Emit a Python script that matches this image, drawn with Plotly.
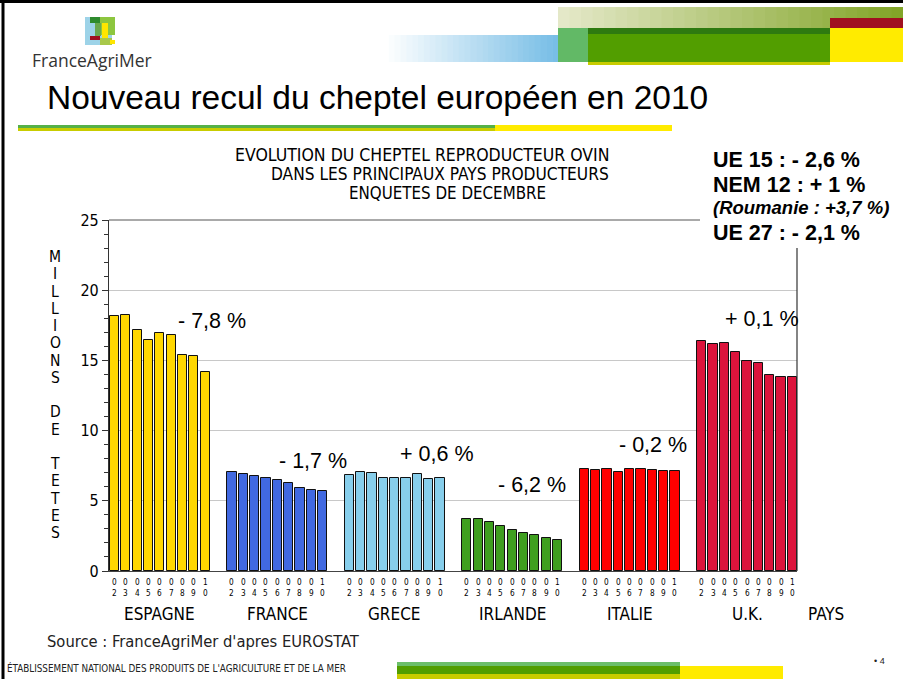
import plotly.graph_objects as go

# ---------------- data ----------------
countries = ["ESPAGNE", "FRANCE", "GRECE", "IRLANDE", "ITALIE", "U.K."]
years = ["02", "03", "04", "05", "06", "07", "08", "09", "10"]

espagne = [18.16, 18.23, 17.14, 16.43, 16.93, 16.81, 15.40, 15.32, 14.15]
france = [7.02, 6.88, 6.76, 6.64, 6.45, 6.28, 5.88, 5.78, 5.67]
grece = [6.83, 7.02, 6.97, 6.59, 6.59, 6.59, 6.90, 6.54, 6.59]
irlande = [3.72, 3.68, 3.46, 3.22, 2.94, 2.68, 2.54, 2.37, 2.20]
italie = [7.30, 7.16, 7.25, 7.02, 7.30, 7.25, 7.20, 7.09, 7.09]
uk = [16.41, 16.20, 16.27, 15.60, 14.96, 14.84, 13.99, 13.82, 13.85]
series = [espagne, france, grece, irlande, italie, uk]

pct_labels = ["- 7,8 %", "- 1,7 %", "+ 0,6 %", "- 6,2 %", "- 0,2 %", "+ 0,1 %"]
summary_lines = ["UE 15 : - 2,6 %", "NEM 12 : + 1 %", "(Roumanie : +3,7 %)", "UE 27 : - 2,1 %"]
y_title_lines = ["M", "I", "L", "L", "I", "O", "N", "S", "", "D", "E", "", "T", "E", "T", "E", "S"]

colors = ["#FFD700", "#4169E1", "#87CEEB", "#3F9F1F", "#FF0000", "#DC143C"]

# ---------------- layout helpers ----------------
W, H = 903, 679
PL, PR, PT, PB = 109, 797, 220, 571
def fx(px):
    return (px - PL) / (PR - PL)
def fy(py):
    return (PB - py) / (PB - PT)

GROUP_PITCH = 117.45
BAR_PITCH = 11.33
FIRST_CENTER = 5.5

chart_font = "Liberation Sans Narrow, DejaVu Sans Condensed, Arial Narrow, sans-serif"
arial = "Liberation Sans, Arial, sans-serif"

fig = go.Figure()
anns = []
def text(x, y, s, size, color="#000000", family=chart_font, xanchor="center", yanchor="middle", **kw):
    anns.append(dict(x=fx(x), y=fy(y), xref="paper", yref="paper", text=s, showarrow=False,
                     xanchor=xanchor, yanchor=yanchor,
                     font=dict(size=size, color=color, family=family), **kw))

for g, (name, vals, col) in enumerate(zip(countries, series, colors)):
    xs = [FIRST_CENTER + g * GROUP_PITCH + i * BAR_PITCH for i in range(len(vals))]
    fig.add_trace(go.Bar(
        x=xs, y=vals, width=9.2, name=name,
        marker=dict(color=col, line=dict(color="#111111", width=1)),
        showlegend=False, hoverinfo="y",
    ))
    for x, yr in zip(xs, years):
        anns.append(dict(x=x, y=fy(587.5), xref="x", yref="paper", text=yr[0] + "<br>" + yr[1],
                         showarrow=False, borderpad=0, xanchor="center", yanchor="middle",
                         font=dict(size=8.2, family=chart_font, color="#000000")))

shapes = []
def rect(x0, y0, x1, y1, color, layer="above"):
    shapes.append(dict(type="rect", xref="paper", yref="paper",
                       x0=fx(x0), x1=fx(x1), y0=fy(y1), y1=fy(y0),
                       fillcolor=color, line=dict(width=0), layer=layer))
def line(x0, y0, x1, y1, color, width=1):
    shapes.append(dict(type="line", xref="paper", yref="paper",
                       x0=fx(x0), x1=fx(x1), y0=fy(y0), y1=fy(y1),
                       line=dict(color=color, width=width), layer="above"))

def lerp(c1, c2, t):
    return "rgb(%d,%d,%d)" % tuple(int(round(a + (b - a) * t)) for a, b in zip(c1, c2))

def hgrad(x0, y0, x1, y1, c1, c2, steps=30):
    w = (x1 - x0) / steps
    for k in range(steps):
        rect(x0 + k * w, y0, x0 + (k + 1) * w + 0.6, y1, lerp(c1, c2, k / (steps - 1)))

# slide border
line(3, 0, 3, H, "#000000", 3)
line(0, 1.5, W, 1.5, "#000000", 3)

# header decorations
hgrad(383, 35, 558, 62, (255, 255, 255), (120, 190, 230))
hgrad(558, 7, 903, 28, (228, 232, 200), (130, 165, 40))
rect(558, 28, 588, 62, "#62B966")
rect(588, 28, 830, 34, "#2E7A10")
rect(588, 34, 830, 62, "#529E00")
rect(588, 62, 830, 65, "#C8CC00")
rect(830, 18, 903, 28, "#A01020")
rect(830, 28, 903, 62, "#FFEB00")

# logo
rect(85, 17, 112, 45, "#9DD3E8")
rect(90, 17, 115, 23, "#2E8B2E")
rect(100, 17, 115, 35, "#8DC63F")
rect(102, 23, 108, 38, "#FFE600")
rect(95, 23, 101, 36, "#6AA84F")
rect(90, 36, 100, 40, "#A01020")
rect(100, 38, 112, 45, "#A8C84A")
rect(110, 40, 115, 44, "#FFE600")

# title underline
rect(18, 125, 495, 128, "#55B048")
rect(18, 128, 495, 131, "#C8CC00")
rect(495, 125, 672, 131, "#FFEB00")

# footer bars
rect(397, 662, 680, 666, "#6CBF6A")
rect(397, 666, 680, 674, "#529E00")
rect(397, 674, 680, 679, "#C8CC00")
rect(680, 666, 783, 679, "#FFEB00")

# plot frame (top line interrupted by the text box, right line starts lower)
line(PL, PT, 700, PT, "#555555", 1)
line(PR, 248, PR, PB, "#333333", 1.2)

# header texts
text(30, 60, "FranceAgriMer", 17.5, "#333333", "Open Sans, Noto Sans, sans-serif", xanchor="left")
text(45, 98, "Nouveau recul du cheptel européen en 2010", 33.5, "#000000", arial, xanchor="left")

# chart titles
text(422.5, 155, "EVOLUTION DU CHEPTEL REPRODUCTEUR OVIN", 17.5)
text(440, 174, "DANS LES PRINCIPAUX PAYS PRODUCTEURS", 17.2)
text(447.5, 193, "ENQUETES DE DECEMBRE", 16.8)

# y axis title (stacked letters)
for k, ch in enumerate(y_title_lines):
    if ch:
        text(55, 257 + k * 17.25, ch, 15.5)

# group labels
for g, name in enumerate(countries):
    cx = PL + FIRST_CENTER + g * GROUP_PITCH + 4 * BAR_PITCH
    text(cx, 614, name, 17)
text(826, 614, "PAYS", 17)

# percent labels
pct_pos = [(212, 321), (313, 461), (437, 454), (532, 485), (653, 445), (762, 319)]
for (x, y), s in zip(pct_pos, pct_labels):
    text(x, y, s, 21.5, family=arial)

# summary box
box_y = [160, 185, 208, 233]
for y, s in zip(box_y, summary_lines):
    if s.startswith("("):
        text(711, y, "<b><i>" + s + "</i></b>", 18.5, family=arial, xanchor="left")
    else:
        text(711, y, "<b>" + s + "</b>", 21.5, family=arial, xanchor="left")

# footer texts
text(45, 641, "Source : FranceAgriMer d'apres EUROSTAT", 16.4, "#222222", xanchor="left")
text(5, 668, "ÉTABLISSEMENT NATIONAL DES PRODUITS DE L'AGRICULTURE ET DE LA MER", 9.8, "#222222",
     "DejaVu Sans Condensed, sans-serif", xanchor="left")
text(872, 661, "• 4", 9, "#222222", arial, xanchor="left")

fig.update_layout(
    width=W, height=H,
    margin=dict(l=PL, r=W - PR, t=PT, b=H - PB, pad=0),
    paper_bgcolor="white", plot_bgcolor="white",
    bargap=0,
    shapes=shapes, annotations=anns,
    xaxis=dict(range=[0, PR - PL], showticklabels=False,
               showgrid=False, zeroline=False, showline=True, linecolor="#444444", linewidth=1.2,
               ticks="", fixedrange=True),
    yaxis=dict(range=[0, 25], tickmode="linear", tick0=0, dtick=5,
               showgrid=True, gridcolor="#C8C8C8", gridwidth=1, zeroline=False,
               showline=True, linecolor="#333333", linewidth=1.2,
               ticks="outside", ticklen=6, tickcolor="#333333",
               minor=dict(dtick=1, ticks="outside", ticklen=4, tickcolor="#333333", showgrid=False),
               tickfont=dict(size=16, family=chart_font, color="#000000"), fixedrange=True),
)

fig.write_html("out.html", config={"displayModeBar": False},
               post_script="document.body.style.margin='0';document.body.style.overflow='hidden';")
